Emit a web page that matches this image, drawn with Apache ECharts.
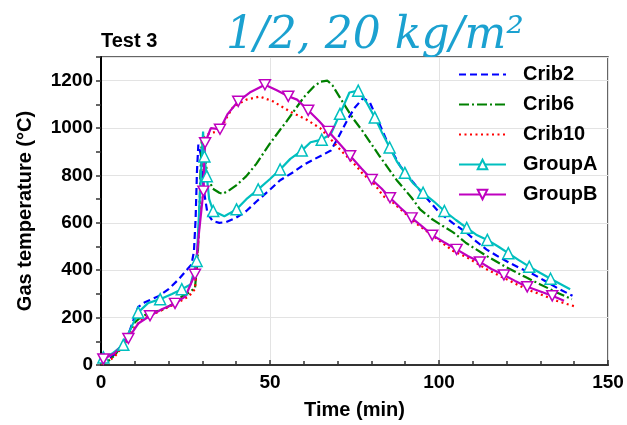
<!DOCTYPE html>
<html>
<head>
<meta charset="utf-8">
<script src="https://cdn.jsdelivr.net/npm/echarts@6/dist/echarts.min.js"></script>
<style>html,body{margin:0;padding:0;background:#fff;}#c{width:627px;height:425px;}</style>
</head>
<body>
<div id="c"></div>
<script>
// ---- data (time in min, gas temperature in °C) ----
const crib2 = [[0,5],[2,20],[4,45],[6,80],[8,125],[10,205],[11,245],[13,265],[17,290],[20,320],[23,362],[25,395],[26.8,425],[27.5,480],[28,620],[28.4,820],[28.8,930],[29.5,890],[30.5,730],[31.5,640],[33,608],[35,600],[37,603],[40,622],[43,650],[46,690],[50,740],[53,780],[57,815],[60,845],[63,868],[66,890],[68,905],[70,955],[72.7,1029],[75,1085],[77.6,1127],[79.6,1106],[82,1030],[85.5,916],[88.5,840],[92.4,770],[96,710],[100,645],[104,600],[108,560],[111,522],[114,488],[117,462],[120,438],[124,408],[127,390],[131,358],[135,325],[139.5,292]];
const crib6 = [[0,5],[2,15],[4,40],[6,80],[8,130],[10,180],[12,205],[15,222],[18,232],[21,255],[24,290],[26,305],[27.8,325],[28.5,430],[29,580],[29.4,800],[29.8,950],[30.5,900],[31.5,800],[33,745],[35,727],[36,722],[38,738],[40,758],[43,797],[46,850],[48,893],[50,935],[53,993],[55,1030],[58,1090],[60,1130],[63,1176],[65,1196],[67,1200],[68.5,1180],[71.5,1110],[74.6,1040],[77.5,985],[82.5,880],[87.5,780],[91.9,706],[94.4,657],[98,615],[101,588],[104.2,560],[108,515],[114.1,460],[120,412],[125.9,369],[130,340],[135,305],[139.3,278]];
const crib10 = [[0,5],[2,15],[4,35],[6,70],[8,110],[10,160],[12,190],[14,205],[17,225],[20,245],[23,265],[26,290],[27.8,320],[28.5,450],[29.2,650],[29.8,850],[30.5,960],[32.2,980],[35.2,985],[37,1040],[39.1,1090],[43,1120],[47,1133],[51,1112],[55.9,1070],[60.9,1035],[64.8,1000],[67.8,955],[71.7,895],[75.6,839],[77.6,804],[80.6,769],[83.5,713],[86.5,684],[90,640],[93.5,595],[98.3,544],[104.2,481],[108.2,455],[114.1,404],[118,376],[125.9,320],[130,298],[135,270],[140,248]];
// GroupA / GroupB: marked samples at even positions
const groupA = [[0.7,32],[3.5,50],[6.6,85],[9,160],[11,222],[14,262],[17.5,278],[21,300],[23.9,320],[26.5,340],[28.3,439],[30.2,985],[30.6,880],[31,830],[31.3,797],[32,700],[33.2,650],[36.5,628],[40.1,657],[43,700],[46.5,741],[50,785],[53,825],[56,870],[59.4,905],[62,940],[65.3,951],[68,975],[70.7,1060],[73.5,1150],[76.1,1158],[78.5,1110],[81,1045],[83,985],[85.4,918],[87.5,860],[89.9,811],[92.5,765],[95.3,727],[98.5,690],[101.6,650],[105,612],[108.2,579],[111,550],[114.3,528],[117.5,500],[120.5,472],[123.5,444],[126.7,415],[130,388],[133,364],[138.8,320]];
const groupB = [[0.7,25],[4,50],[8.1,112],[11,175],[14.5,208],[18,235],[21.9,260],[25,290],[27.8,383],[29,560],[30.3,734],[30.5,840],[30.8,938],[32.5,1000],[35.2,995],[37.5,1060],[40.6,1113],[44,1150],[48.5,1183],[52,1160],[55.4,1134],[58,1120],[61.3,1075],[64.5,1030],[67.3,986],[70.5,935],[73.7,883],[77,830],[80.1,783],[83,745],[85.5,706],[88.5,665],[91.9,621],[95,585],[98,548],[101.5,518],[105.2,488],[108.5,460],[112.1,435],[115.5,405],[119.2,380],[122.5,355],[126.1,330],[130,310],[133.5,292],[137,271]];
const seriesNames = ['Crib2','Crib6','Crib10','GroupA','GroupB'];
const xTicks = [0,50,100,150];
const yTicks = [0,200,400,600,800,1000,1200];

const FONT = '"Liberation Sans", Arial, sans-serif';
const chart = echarts.init(document.getElementById('c'), null, {renderer:'canvas'});
const triUp = 'triangle';
const triDown = 'path://M0,0 L10,0 L5,9 Z';
function marked(arr){ return arr.map((p,i)=> i%2===0 ? {value:p} : {value:p, symbol:'none'}); }

const lineBase = {type:'line', smooth:false, showAllSymbol:true, animation:false};
const hidden = {symbol:'circle', showSymbol:false, itemStyle:{color:'rgba(0,0,0,0)', borderWidth:0}};
chart.setOption({
  animation:false,
  backgroundColor:'#fff',
  grid:{left:101, right:19, top:57, bottom:59, show:true, borderColor:'#333', borderWidth:1.5},
  xAxis:{type:'value', min:xTicks[0], max:xTicks[xTicks.length-1], interval:50,
    axisLine:{lineStyle:{color:'#333', width:2}},
    axisTick:{inside:true, length:5, lineStyle:{color:'#333', width:1.5}},
    minorTick:{show:true, splitNumber:5, length:4, lineStyle:{color:'#333', width:1.5}},
    splitLine:{show:true, lineStyle:{color:'#e3e3e3', width:1}},
    axisLabel:{color:'#000', fontFamily:FONT, fontWeight:'bold', fontSize:19, margin:8},
    name:'Time (min)', nameLocation:'middle', nameGap:35,
    nameTextStyle:{color:'#000', fontFamily:FONT, fontWeight:'bold', fontSize:20}},
  yAxis:{type:'value', min:0, max:1300, interval:200,
    axisLine:{show:true, lineStyle:{color:'#000', width:2}},
    axisTick:{show:true, inside:false, length:5, lineStyle:{color:'#333', width:1.5}},
    minorTick:{show:true, splitNumber:2, length:5, lineStyle:{color:'#333', width:1.5}},
    splitLine:{show:true, lineStyle:{color:'#e3e3e3', width:1}},
    axisLabel:{color:'#000', fontFamily:FONT, fontWeight:'bold', fontSize:19, margin:8,
      formatter:v=> yTicks.indexOf(v)>=0 ? String(v) : ''},
    name:'Gas temperature (°C)', nameLocation:'middle', nameGap:66, nameRotate:90,
    nameTextStyle:{color:'#000', fontFamily:FONT, fontWeight:'bold', fontSize:20}},
  legend:{orient:'vertical', left:453, top:58, itemWidth:47, itemHeight:12, itemGap:7,
    textStyle:{color:'#000', fontFamily:FONT, fontWeight:'bold', fontSize:20, padding:[0,0,0,12], lineHeight:23},
    data:seriesNames},
  graphic:[
    {type:'text', left:101, top:31, style:{text:'Test 3', fill:'#000', font:'bold 20px '+FONT}},
    {type:'text', left:226, top:15, style:{text:'1/2, 20 kg/m²', fill:'#1ba1d0', font:'italic 44px "DejaVu Serif", serif'}},
    {type:'text', left:356, top:-33, style:{text:'(c)', fill:'#000', font:'36px "DejaVu Serif", serif'}}
  ],
  series:[
    Object.assign({}, lineBase, hidden, {name:seriesNames[0], data:crib2,
      lineStyle:{color:'#0000ff', width:2.2, type:[7,4]}}),
    Object.assign({}, lineBase, hidden, {name:seriesNames[1], data:crib6,
      lineStyle:{color:'#008000', width:2.2, type:[10,3,2,3]}}),
    Object.assign({}, lineBase, hidden, {name:seriesNames[2], data:crib10,
      lineStyle:{color:'#ff0000', width:2.2, type:[2,3.5]}}),
    Object.assign({}, lineBase, {name:seriesNames[3], data:marked(groupA), symbol:triUp, symbolSize:11,
      lineStyle:{color:'#00bfbf', width:2.2},
      itemStyle:{color:'#fff', borderColor:'#00bfbf', borderWidth:1.5}}),
    Object.assign({}, lineBase, {name:seriesNames[4], data:marked(groupB), symbol:triDown, symbolSize:[11,10],
      lineStyle:{color:'#bf00bf', width:2.2},
      itemStyle:{color:'#fff', borderColor:'#bf00bf', borderWidth:1.5}})
  ]
});
</script>
</body>
</html>
